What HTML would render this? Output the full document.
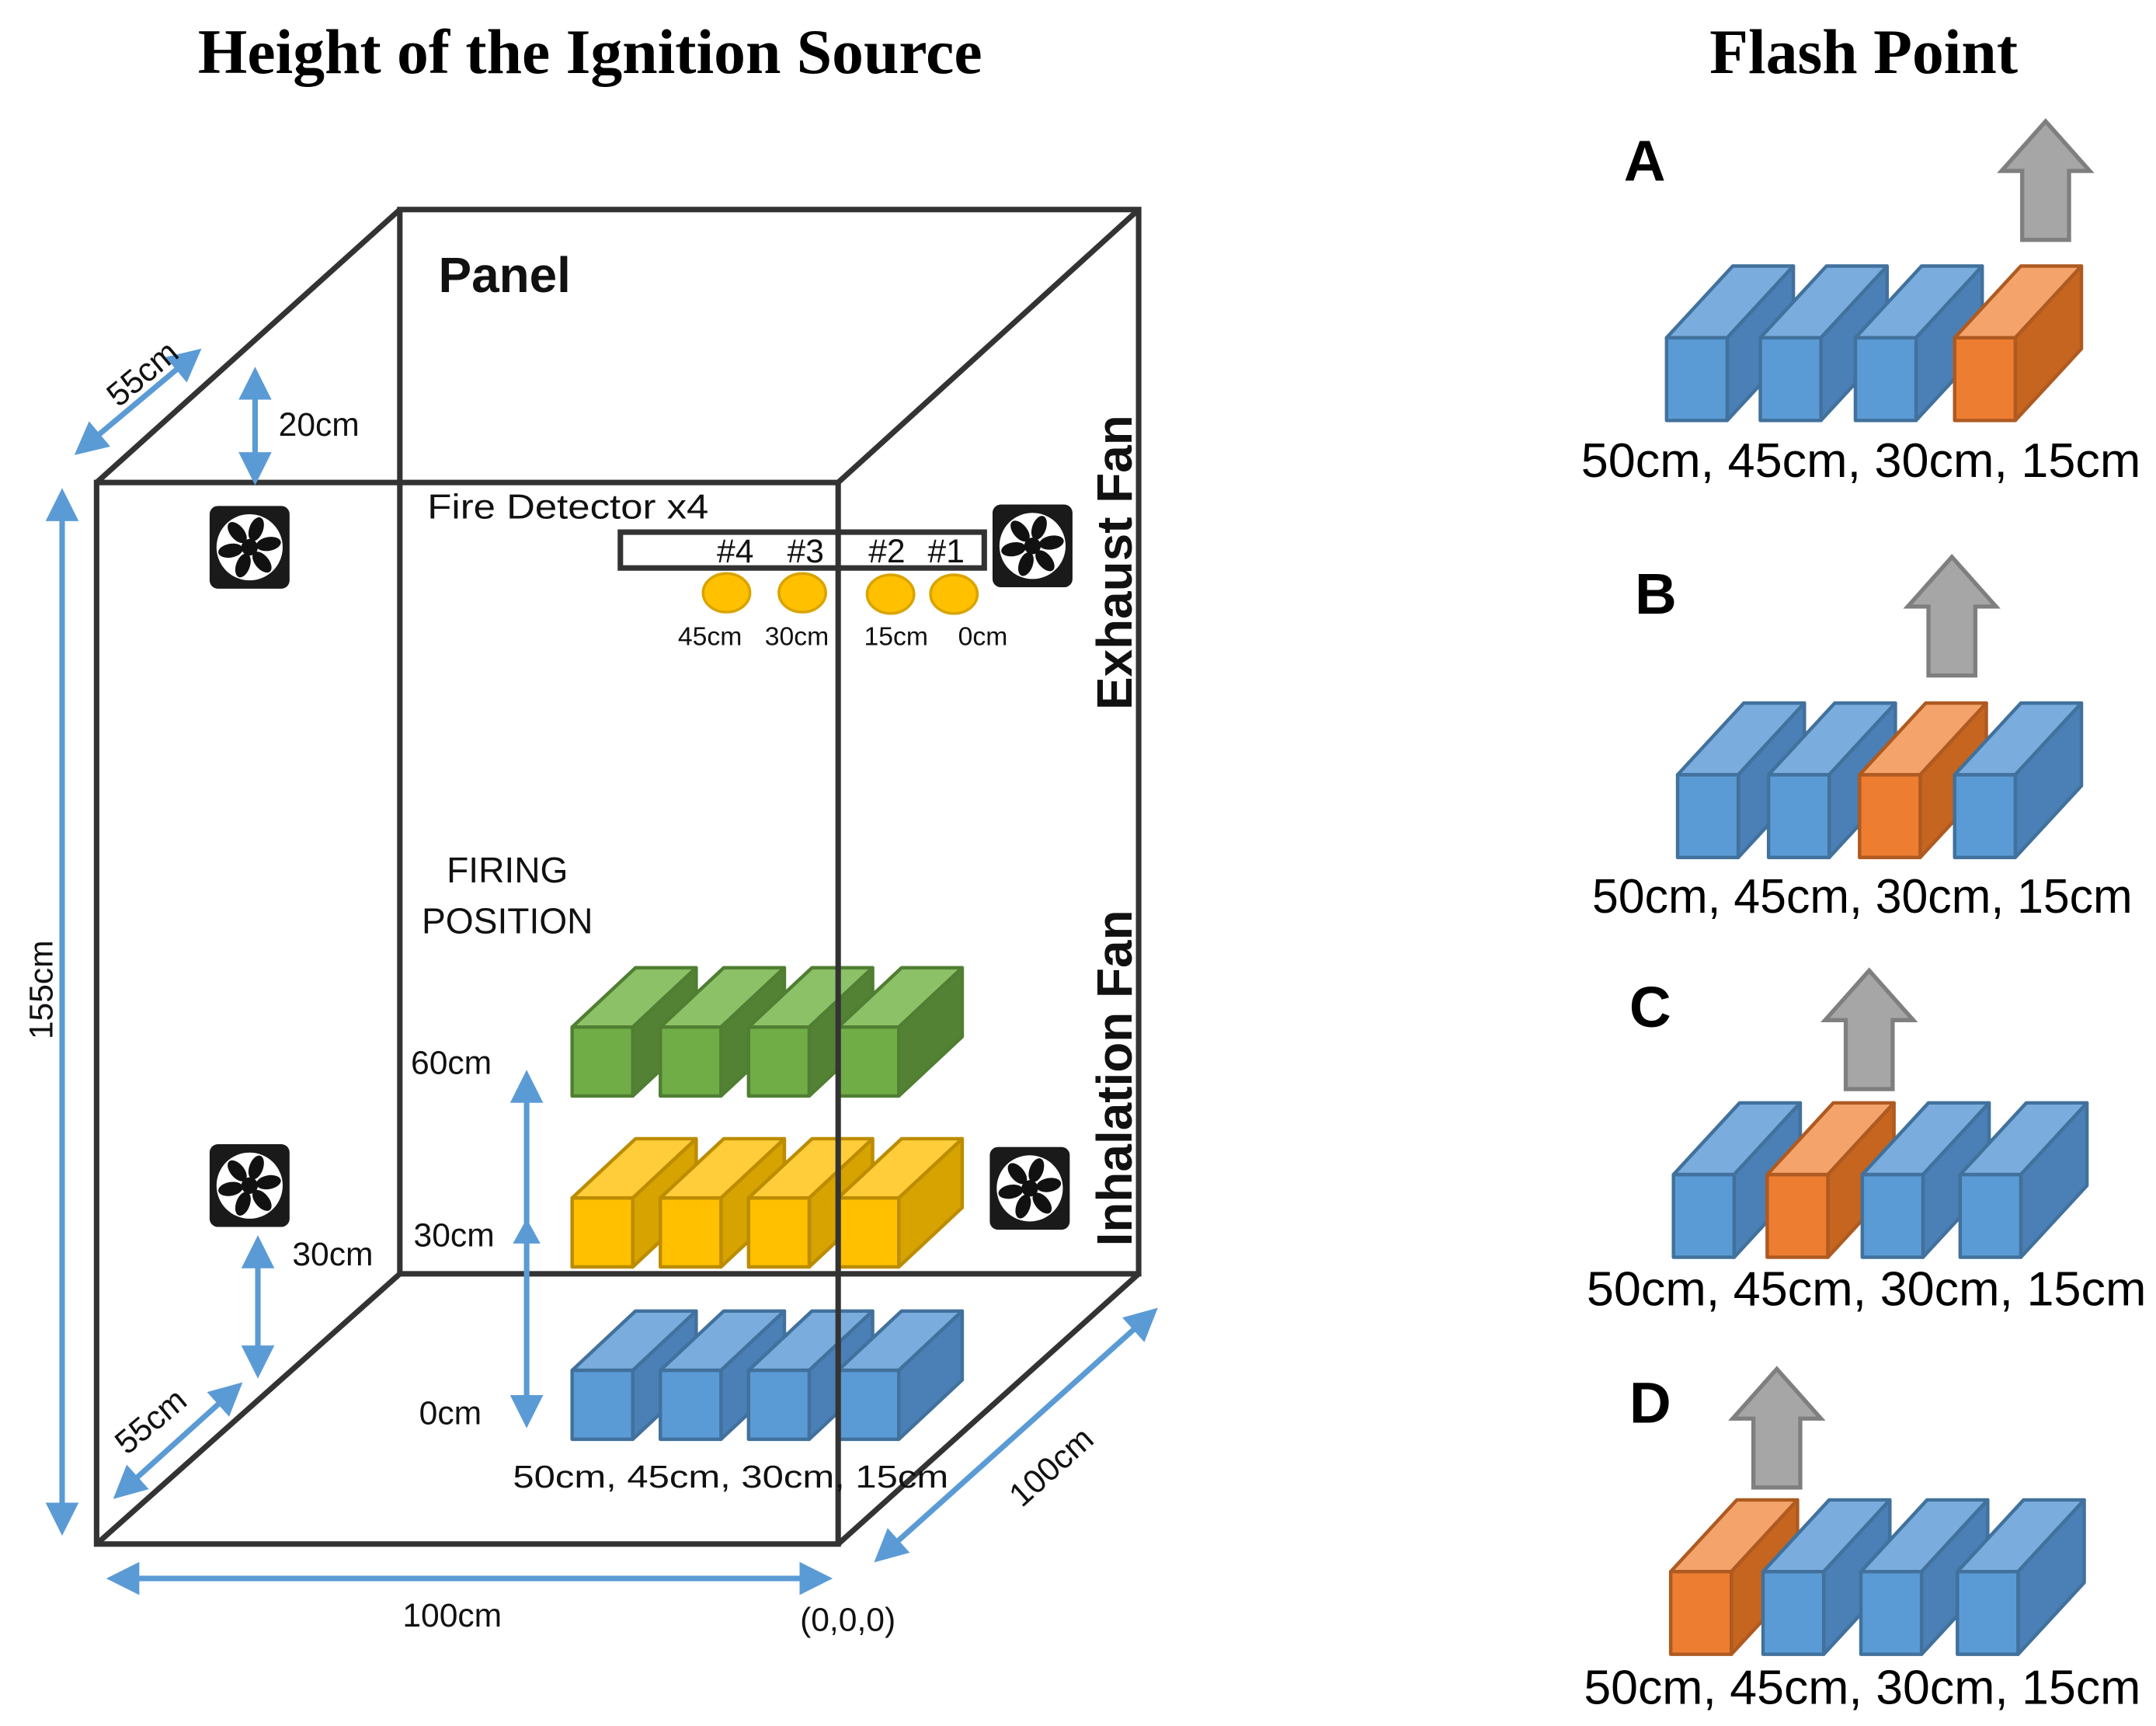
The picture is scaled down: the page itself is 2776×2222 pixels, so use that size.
<!DOCTYPE html>
<html><head><meta charset="utf-8"><style>
html,body{margin:0;padding:0;background:#fff;}
svg{display:block}
</style></head><body>
<svg width="2776" height="2222" viewBox="0 0 1564 1252" xmlns="http://www.w3.org/2000/svg">
<defs>
<marker id="ah" markerWidth="6" markerHeight="6" refX="4" refY="3" orient="auto-start-reverse" markerUnits="strokeWidth">
<path d="M0,0 L6,3 L0,6 z" fill="#5b9bd5"/></marker>
<g id="fan">
<rect x="0" y="0" width="58" height="60" rx="6" fill="#1a1a1a"/>
<circle cx="29" cy="30" r="24" fill="#fff"/>
<g fill="#111">
<ellipse cx="29" cy="16" rx="5" ry="9" transform="rotate(20 29 30)"/>
<ellipse cx="29" cy="16" rx="5" ry="9" transform="rotate(80 29 30)"/>
<ellipse cx="29" cy="16" rx="5" ry="9" transform="rotate(140 29 30)"/>
<ellipse cx="29" cy="16" rx="5" ry="9" transform="rotate(200 29 30)"/>
<ellipse cx="29" cy="16" rx="5" ry="9" transform="rotate(260 29 30)"/>
<ellipse cx="29" cy="16" rx="5" ry="9" transform="rotate(320 29 30)"/>
<circle cx="29" cy="30" r="6"/>
</g>
</g>
<g id="cg" stroke="#507e32" stroke-width="2.5" stroke-linejoin="round">
<polygon points="0,0 46,-43 90,-43 44,0" fill="#8cc168"/>
<polygon points="44,0 90,-43 90,7 44,50" fill="#548235"/>
<rect x="0" y="0" width="44" height="50" fill="#70ad47"/>
</g>
<g id="cy" stroke="#bc8c00" stroke-width="2.5" stroke-linejoin="round">
<polygon points="0,0 46,-43 90,-43 44,0" fill="#ffcd3a"/>
<polygon points="44,0 90,-43 90,7 44,50" fill="#d6a300"/>
<rect x="0" y="0" width="44" height="50" fill="#ffc000"/>
</g>
<g id="cb" stroke="#41719c" stroke-width="2.5" stroke-linejoin="round">
<polygon points="0,0 46,-43 90,-43 44,0" fill="#7aaddd"/>
<polygon points="44,0 90,-43 90,7 44,50" fill="#4a80b6"/>
<rect x="0" y="0" width="44" height="50" fill="#5b9bd5"/>
</g>
<g id="rb" stroke="#41719c" stroke-width="2.5" stroke-linejoin="round">
<polygon points="0,0 48,-52 92,-52 44,0" fill="#7aaddd"/>
<polygon points="44,0 92,-52 92,8 44,60" fill="#4a80b6"/>
<rect x="0" y="0" width="44" height="60" fill="#5b9bd5"/>
</g>
<g id="ro" stroke="#ae5a21" stroke-width="2.5" stroke-linejoin="round">
<polygon points="0,0 48,-52 92,-52 44,0" fill="#f4a46b"/>
<polygon points="44,0 92,-52 92,8 44,60" fill="#c5651f"/>
<rect x="0" y="0" width="44" height="60" fill="#ed7d31"/>
</g>
<polygon id="garrow" points="0,0 32,36 17,36 17,86 -17,86 -17,36 -32,36" fill="#a6a6a6" stroke="#7f7f7f" stroke-width="3"/>
</defs>

<!-- titles -->
<g font-family="Liberation Serif, serif" font-weight="bold" font-size="46" text-anchor="middle" fill="#000">
<text x="428" y="53">Height of the Ignition Source</text>
<text x="1352" y="53">Flash Point</text>
</g>

<!-- cubes left -->
<use href="#cg" x="415" y="745"/><use href="#cg" x="479" y="745"/><use href="#cg" x="543" y="745"/><use href="#cg" x="608" y="745"/>
<use href="#cy" x="415" y="869"/><use href="#cy" x="479" y="869"/><use href="#cy" x="543" y="869"/><use href="#cy" x="608" y="869"/>
<use href="#cb" x="415" y="994"/><use href="#cb" x="479" y="994"/><use href="#cb" x="543" y="994"/><use href="#cb" x="608" y="994"/>

<!-- box -->
<g stroke="#333" stroke-width="4" fill="none">
<rect x="290" y="152" width="536" height="772"/>
<rect x="70" y="350" width="538" height="770"/>
<line x1="70" y1="350" x2="290" y2="152"/>
<line x1="608" y1="350" x2="826" y2="152"/>
<line x1="70" y1="1120" x2="290" y2="924"/>
<line x1="608" y1="1120" x2="826" y2="924"/>
</g>

<!-- fans -->
<use href="#fan" x="152" y="367"/>
<use href="#fan" x="720" y="366"/>
<use href="#fan" x="152" y="830"/>
<use href="#fan" x="718" y="832"/>

<!-- blue dimension arrows -->
<g stroke="#5b9bd5" stroke-width="4" fill="none">
<line x1="60" y1="325" x2="140" y2="258" marker-start="url(#ah)" marker-end="url(#ah)"/>
<line x1="185" y1="274" x2="185" y2="344" marker-start="url(#ah)" marker-end="url(#ah)"/>
<line x1="45" y1="362" x2="45" y2="1106" marker-start="url(#ah)" marker-end="url(#ah)"/>
<line x1="187" y1="904" x2="187" y2="992" marker-start="url(#ah)" marker-end="url(#ah)"/>
<line x1="88" y1="1082" x2="170" y2="1008" marker-start="url(#ah)" marker-end="url(#ah)"/>
<line x1="85" y1="1145" x2="596" y2="1145" marker-start="url(#ah)" marker-end="url(#ah)"/>
<line x1="640" y1="1128" x2="834" y2="954" marker-start="url(#ah)" marker-end="url(#ah)"/>
<line x1="382" y1="784" x2="382" y2="1028" marker-start="url(#ah)" marker-end="url(#ah)"/>
</g>
<polygon points="382,884 372,902 392,902" fill="#5b9bd5"/>

<!-- detector -->
<rect x="450" y="386" width="264" height="26" fill="none" stroke="#333" stroke-width="4"/>
<g fill="#ffc000" stroke="#d9a400" stroke-width="2">
<ellipse cx="527" cy="430" rx="17" ry="14"/><ellipse cx="582" cy="430" rx="17" ry="14"/>
<ellipse cx="646" cy="431" rx="17" ry="14"/><ellipse cx="692" cy="431" rx="17" ry="14"/>
</g>

<!-- labels -->
<g font-family="Liberation Sans, sans-serif" fill="#111">
<text x="318" y="212" font-size="36" font-weight="bold">Panel</text>
<text x="310" y="376" font-size="25" textLength="204" lengthAdjust="spacingAndGlyphs">Fire Detector x4</text>
<g font-size="24"><text x="520" y="408">#4</text><text x="571" y="408">#3</text><text x="630" y="408">#2</text><text x="673" y="408">#1</text></g>
<g font-size="19" text-anchor="middle"><text x="515" y="468">45cm</text><text x="578" y="468">30cm</text><text x="650" y="468">15cm</text><text x="713" y="468">0cm</text></g>
<text x="202" y="316" font-size="24">20cm</text>
<text x="212" y="918" font-size="24">30cm</text>
<text x="0" y="0" font-size="24" transform="translate(86,296) rotate(-40)">55cm</text>
<text x="0" y="0" font-size="24" transform="translate(92,1056) rotate(-40)">55cm</text>
<text x="0" y="0" font-size="24" text-anchor="middle" transform="translate(38,718) rotate(-90)">155cm</text>
<text x="328" y="1180" font-size="24" text-anchor="middle">100cm</text>
<text x="615" y="1183" font-size="24" text-anchor="middle">(0,0,0)</text>
<text x="0" y="0" font-size="24" text-anchor="middle" transform="translate(768,1070) rotate(-42)">100cm</text>
<g font-size="26" text-anchor="middle"><text x="368" y="640">FIRING</text><text x="368" y="677">POSITION</text></g>
<g font-size="24"><text x="298" y="779">60cm</text><text x="300" y="904">30cm</text><text x="304" y="1033">0cm</text></g>
<text x="372" y="1079" font-size="23" textLength="316" lengthAdjust="spacingAndGlyphs">50cm, 45cm, 30cm, 15cm</text>
<text x="0" y="0" font-size="36" font-weight="bold" text-anchor="middle" transform="translate(821,408) rotate(-90)">Exhaust Fan</text>
<text x="0" y="0" font-size="36" font-weight="bold" text-anchor="middle" transform="translate(821,782) rotate(-90)">Inhalation Fan</text>
</g>

<!-- right panels -->
<g font-family="Liberation Sans, sans-serif" fill="#000">
<g font-size="42" font-weight="bold">
<text x="1178" y="131">A</text><text x="1186" y="445">B</text><text x="1182" y="745">C</text><text x="1182" y="1032">D</text>
</g>
<g font-size="35">
<text x="1147" y="346" textLength="406" lengthAdjust="spacingAndGlyphs">50cm, 45cm, 30cm, 15cm</text>
<text x="1155" y="662" textLength="392" lengthAdjust="spacingAndGlyphs">50cm, 45cm, 30cm, 15cm</text>
<text x="1151" y="947" textLength="406" lengthAdjust="spacingAndGlyphs">50cm, 45cm, 30cm, 15cm</text>
<text x="1149" y="1236" textLength="404" lengthAdjust="spacingAndGlyphs">50cm, 45cm, 30cm, 15cm</text>
</g>
</g>
<use href="#garrow" x="1484" y="88"/>
<use href="#garrow" x="1416" y="404"/>
<use href="#garrow" x="1356" y="704"/>
<use href="#garrow" x="1289" y="993"/>

<use href="#rb" x="1209" y="245"/><use href="#rb" x="1277" y="245"/><use href="#rb" x="1346" y="245"/><use href="#ro" x="1418" y="245"/>
<use href="#rb" x="1217" y="562"/><use href="#rb" x="1283" y="562"/><use href="#ro" x="1349" y="562"/><use href="#rb" x="1418" y="562"/>
<use href="#rb" x="1214" y="852"/><use href="#ro" x="1282" y="852"/><use href="#rb" x="1351" y="852"/><use href="#rb" x="1422" y="852"/>
<use href="#ro" x="1212" y="1140"/><use href="#rb" x="1279" y="1140"/><use href="#rb" x="1350" y="1140"/><use href="#rb" x="1420" y="1140"/>
</svg>
</body></html>
